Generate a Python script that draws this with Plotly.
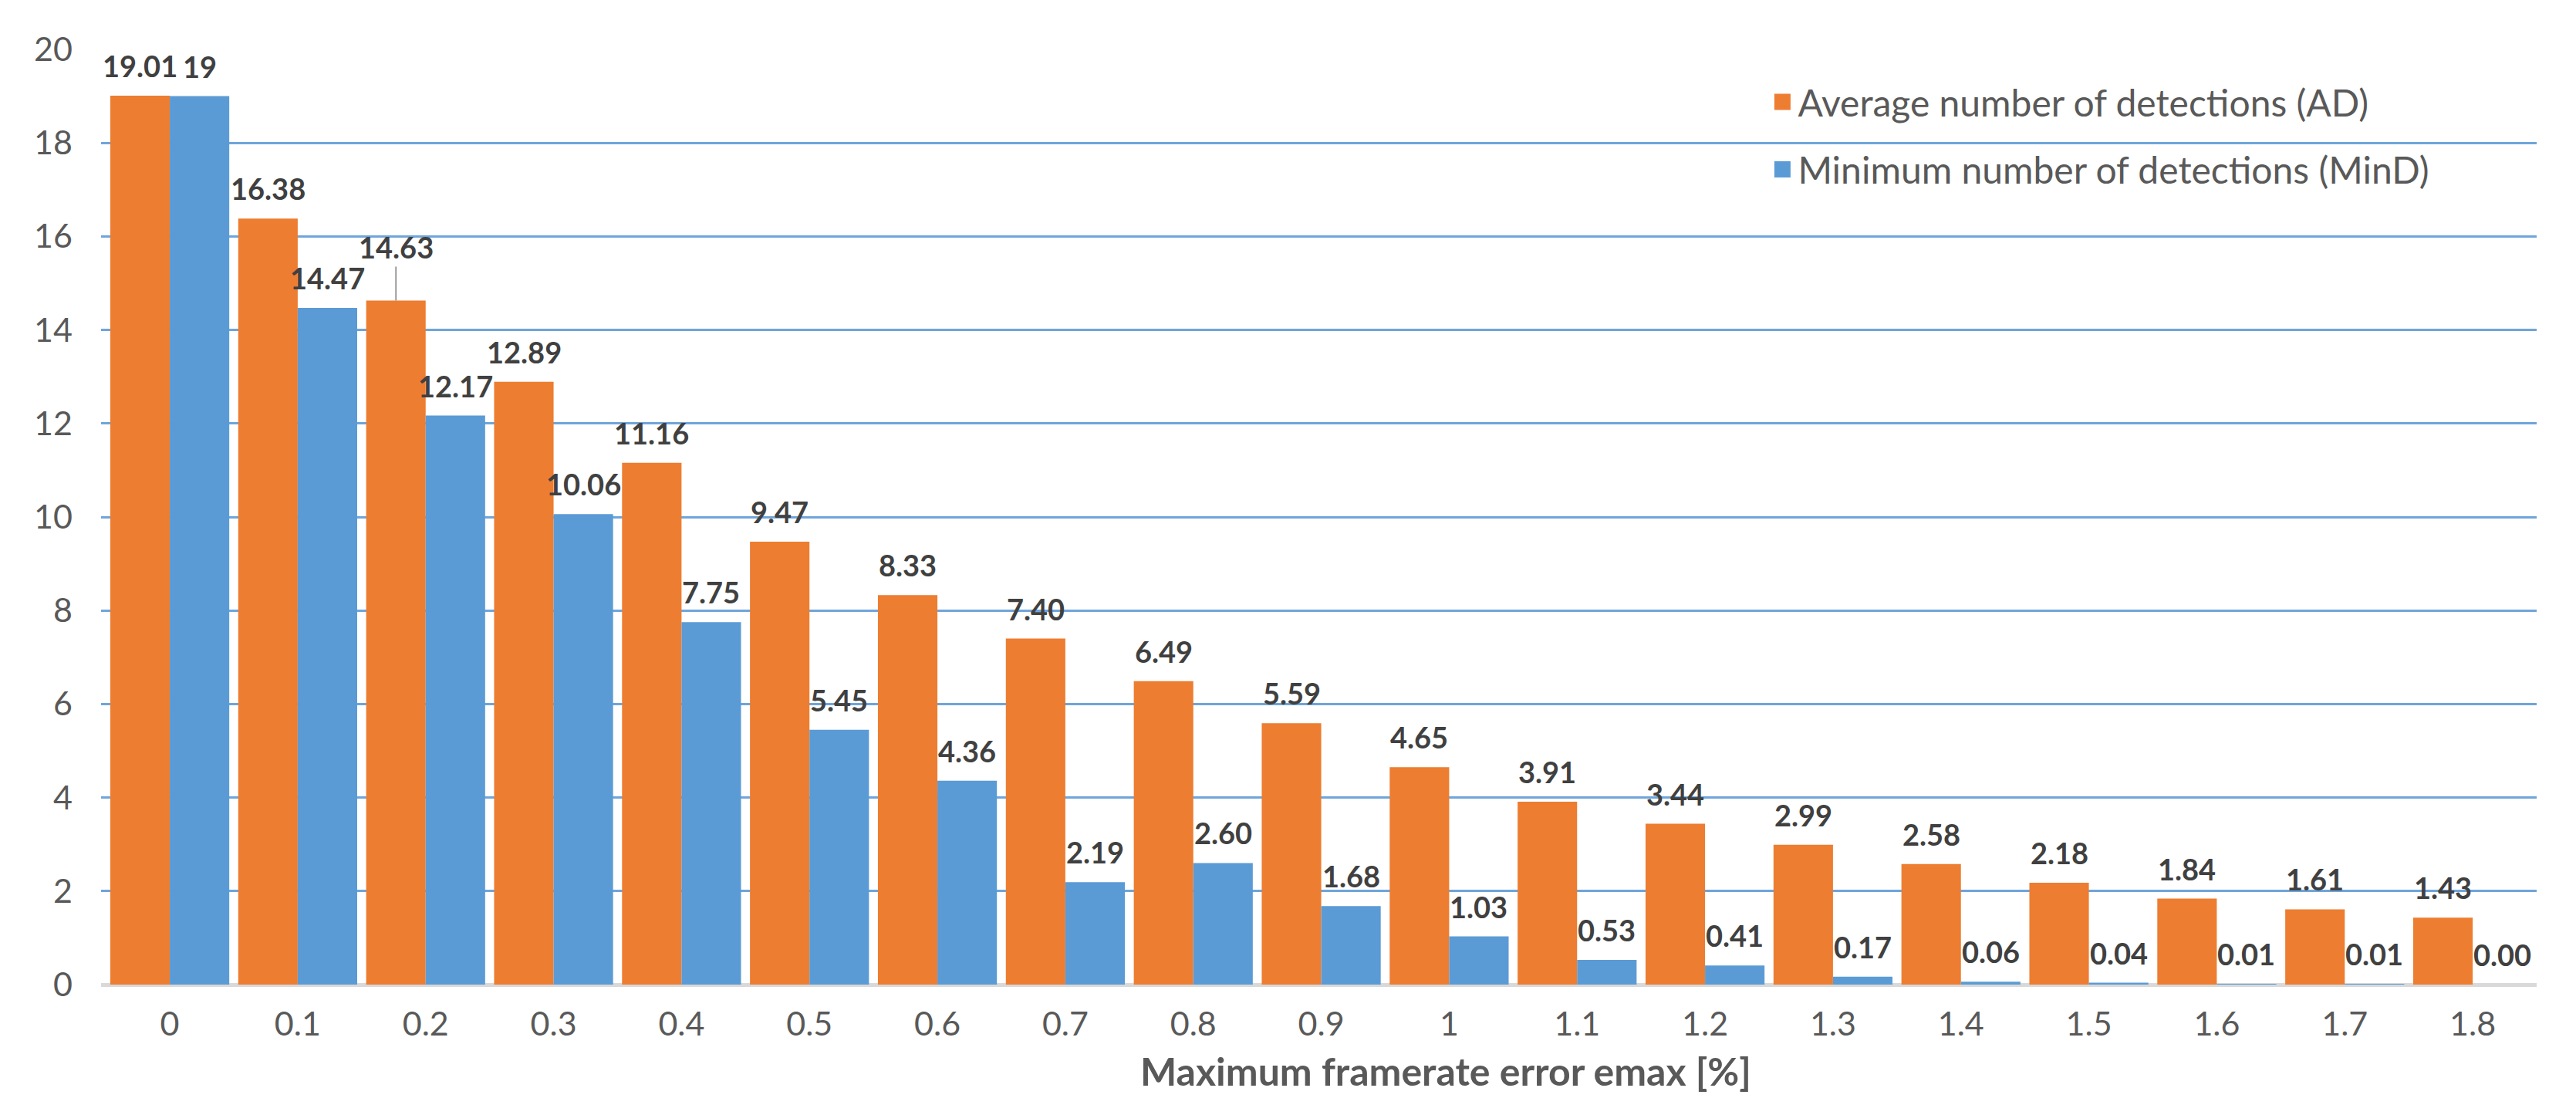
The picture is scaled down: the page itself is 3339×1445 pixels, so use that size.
import plotly.graph_objects as go

categories = ["0", "0.1", "0.2", "0.3", "0.4", "0.5", "0.6", "0.7", "0.8", "0.9",
              "1", "1.1", "1.2", "1.3", "1.4", "1.5", "1.6", "1.7", "1.8"]
ad_values = [19.01, 16.38, 14.63, 12.89, 11.16, 9.47, 8.33, 7.40, 6.49, 5.59,
             4.65, 3.91, 3.44, 2.99, 2.58, 2.18, 1.84, 1.61, 1.43]
mind_values = [19, 14.47, 12.17, 10.06, 7.75, 5.45, 4.36, 2.19, 2.60, 1.68,
               1.03, 0.53, 0.41, 0.17, 0.06, 0.04, 0.01, 0.01, 0.00]
ad_labels = ["19.01", "16.38", "14.63", "12.89", "11.16", "9.47", "8.33", "7.40", "6.49", "5.59",
             "4.65", "3.91", "3.44", "2.99", "2.58", "2.18", "1.84", "1.61", "1.43"]
mind_labels = ["19", "14.47", "12.17", "10.06", "7.75", "5.45", "4.36", "2.19", "2.60", "1.68",
               "1.03", "0.53", "0.41", "0.17", "0.06", "0.04", "0.01", "0.01", "0.00"]
ad_name = "Average number of detections (AD)"
mind_name = "Minimum number of detections (MinD)"
x_title = "Maximum framerate error emax [%]"

ORANGE = "#ED7D31"
BLUE = "#5B9BD5"
FONT = "Lato"
BARGAP = 0.07

W, H = 3339, 1445
ML, MR, MT, MB = 123, 59, 56, 177

fig = go.Figure()
fig.add_trace(go.Bar(x=categories, y=ad_values, name=ad_name, marker_color=ORANGE,
                     marker_line_width=0, showlegend=False))
fig.add_trace(go.Bar(x=categories, y=mind_values, name=mind_name, marker_color=BLUE,
                     marker_line_width=0, showlegend=False))
# legend keys (larger square swatches like the original)
fig.add_trace(go.Scatter(x=[None], y=[None], mode="markers", name=ad_name,
                         marker=dict(symbol="square", size=16, color=ORANGE,
                                     line=dict(color=ORANGE, width=5)),
                         legendgroup="ad"))
fig.add_trace(go.Scatter(x=[None], y=[None], mode="markers", name=mind_name,
                         marker=dict(symbol="square", size=16, color=BLUE,
                                     line=dict(color=BLUE, width=5)),
                         legendgroup="mind"))

half = (1 - BARGAP) / 4
lab_font = dict(family=FONT, size=38, color="#404040", weight="bold")
annotations = []
for i, (v, t) in enumerate(zip(ad_values, ad_labels)):
    a = dict(x=i - half, y=v, xref="x", yref="y", text=t, showarrow=False,
             yanchor="bottom", yshift=14, font=lab_font)
    if i == 2:
        a.update(showarrow=True, arrowhead=0, arrowwidth=1.5, arrowcolor="#7f7f7f",
                 ax=0, ay=-44, yshift=0, standoff=0)
    annotations.append(a)
for i, (v, t) in enumerate(zip(mind_values, mind_labels)):
    annotations.append(dict(x=i + half, y=v, xref="x", yref="y", text=t, showarrow=False,
                            yanchor="bottom", yshift=14, font=lab_font))

plot_h = H - MT - MB
plot_w = W - ML - MR
annotations.append(dict(x=(1866 - ML) / plot_w, y=-(1380 - (H - MB)) / plot_h,
                        xref="paper", yref="paper", text=x_title, showarrow=False,
                        xanchor="center", yanchor="middle",
                        font=dict(family=FONT, size=50, color="#595959", weight="bold")))

fig.update_layout(
    width=W, height=H,
    margin=dict(l=ML, r=MR, t=MT, b=MB),
    paper_bgcolor="white", plot_bgcolor="white",
    barmode="group", bargap=BARGAP, bargroupgap=0,
    font=dict(family=FONT, color="#595959"),
    showlegend=True,
    legend=dict(x=0.684, y=0.975, xanchor="left", yanchor="top",
                font=dict(family=FONT, size=48, color="#595959"),
                bgcolor="rgba(255,255,255,0)", tracegroupgap=22,
                traceorder="grouped", itemwidth=30),
    annotations=annotations,
)
fig.update_xaxes(type="category", showgrid=False, showline=False, ticks="",
                 tickfont=dict(family=FONT, size=43, color="#595959"),
                 ticklabelstandoff=22)
fig.update_yaxes(range=[0, 20], dtick=2, showgrid=True, gridcolor="#6FA5DA", gridwidth=3,
                 zeroline=True, zerolinecolor="#D9D9D9", zerolinewidth=5,
                 showline=False, ticks="",
                 tickfont=dict(family=FONT, size=43, color="#595959"),
                 ticklabelstandoff=36)

fig.write_html("out.html")
